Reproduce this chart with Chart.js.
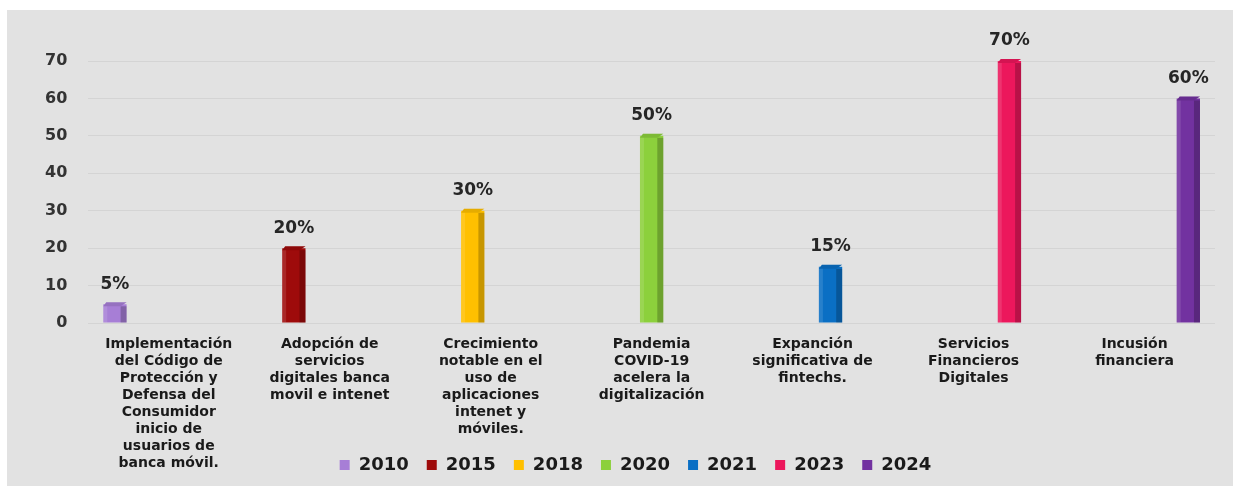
<!DOCTYPE html>
<html>
<head>
<meta charset="utf-8">
<script src="https://cdn.jsdelivr.net/npm/chart.js@4"></script>
<style>
  html, body { margin: 0; padding: 0; background: #fff; }
  #frame { position: absolute; left: 7px; top: 10px; width: 1226px; height: 476px; background: #e2e2e2; }
  #wrap { position: absolute; left: 0; top: 0; width: 1240px; height: 489px; }
</style>
</head>
<body>
<div id="frame"></div>
<div id="wrap"><canvas id="timelineChart"></canvas></div>
<script>
const categories = [
    ['Implementación', 'del Código de', 'Protección y', 'Defensa del', 'Consumidor', 'inicio de', 'usuarios de', 'banca móvil.'],
    ['Adopción de', 'servicios', 'digitales banca', 'movil e intenet'],
    ['Crecimiento', 'notable en el', 'uso de', 'aplicaciones', 'intenet y', 'móviles.'],
    ['Pandemia', 'COVID-19', 'acelera la', 'digitalización'],
    ['Expanción', 'significativa de', 'fintechs.'],
    ['Servicios', 'Financieros', 'Digitales'],
    ['Incusión', 'financiera']
];
const years = ['2010', '2015', '2018', '2020', '2021', '2023', '2024'];
const values = [5, 20, 30, 50, 15, 70, 60];
const colors = ['#a77ed6', '#9e0b0b', '#ffc000', '#8cd03c', '#0a6fc4', '#ec175c', '#7232a0'];
const yTicks = [0, 10, 20, 30, 40, 50, 60, 70];

const FONT = '"DejaVu Sans", sans-serif';

// one series per year, each one only has a value in its own category
const datasets = years.map(function(year, i) {
    return {
        label: year,
        data: categories.map(function(_, j) { return j === i ? values[i] : null; }),
        backgroundColor: colors[i],
        borderWidth: 0
    };
});

// darker right face + percentage label above every bar
const barDecor = {
    id: 'barDecor',
    afterDatasetsDraw(chart) {
        const ctx = chart.ctx;
        chart.data.datasets.forEach(function(ds, i) {
            chart.getDatasetMeta(i).data.forEach(function(bar, j) {
                if (ds.data[j] == null) return;
                const right = bar.x + bar.width / 2;
                const left = bar.x - bar.width / 2;
                ctx.save();
                ctx.fillStyle = 'rgba(0,0,0,0.22)';
                ctx.fillRect(right - 6, bar.y + 2, 6, bar.base - bar.y - 2);
                ctx.fillStyle = 'rgba(255,255,255,0.12)';
                ctx.fillRect(left, bar.y, 4, bar.base - bar.y);
                ctx.beginPath();
                ctx.moveTo(left, bar.y + 2);
                ctx.lineTo(left + 3, bar.y - 2);
                ctx.lineTo(right, bar.y - 2);
                ctx.lineTo(right - 6, bar.y + 2);
                ctx.closePath();
                ctx.fillStyle = ds.backgroundColor;
                ctx.fill();
                ctx.fillStyle = 'rgba(0,0,0,0.1)';
                ctx.fill();
                ctx.fillStyle = '#262626';
                ctx.font = 'bold 17px ' + FONT;
                ctx.textAlign = 'center';
                ctx.textBaseline = 'middle';
                ctx.fillText(ds.data[j] + '%', bar.x, bar.y - 20);
                ctx.restore();
            });
        });
    }
};

// the legend sits beside the bottom of the long first label, as in the original
const legendLift = {
    id: 'legendLift',
    afterLayout(chart) {
        const lg = chart.legend;
        lg.top = 438;
        lg.bottom = chart.height;
        lg.height = lg.bottom - lg.top;
        lg.left += 16;
        lg.right += 16;
    }
};

const ctx = document.getElementById('timelineChart').getContext('2d');
const timelineChart = new Chart(ctx, {
    type: 'bar',
    data: {
        labels: categories,
        datasets: datasets
    },
    options: {
        responsive: true,
        maintainAspectRatio: false,
        animation: false,
        categoryPercentage: 0.78,
        barPercentage: 1.3,
        layout: {
            padding: { top: 61, left: 24, right: 25, bottom: 0 }
        },
        scales: {
            x: {
                grid: { display: false },
                border: { display: false },
                ticks: {
                    color: '#1a1a1a',
                    font: { family: FONT, size: 14, weight: 'bold', lineHeight: 17 / 14 },
                    padding: 5,
                    maxRotation: 0,
                    autoSkip: false
                },
                afterFit: function(scale) {
                    scale.height = 152;
                    scale.paddingLeft = 0;
                    scale.paddingRight = 0;
                }
            },
            y: {
                min: yTicks[0],
                max: yTicks[yTicks.length - 1],
                grid: { color: 'rgba(170,170,170,0.25)', drawTicks: false },
                border: { display: false },
                ticks: {
                    stepSize: 10,
                    color: '#333',
                    padding: 21,
                    font: { family: FONT, size: 16, weight: 'bold' }
                }
            }
        },
        plugins: {
            legend: {
                position: 'bottom',
                maxHeight: 14,
                labels: {
                    boxWidth: 10,
                    boxHeight: 10,
                    padding: 18,
                    color: '#1a1a1a',
                    font: { family: FONT, size: 18, weight: 'bold' }
                }
            },
            tooltip: { enabled: false }
        }
    },
    plugins: [barDecor, legendLift]
});
</script>
</body>
</html>
